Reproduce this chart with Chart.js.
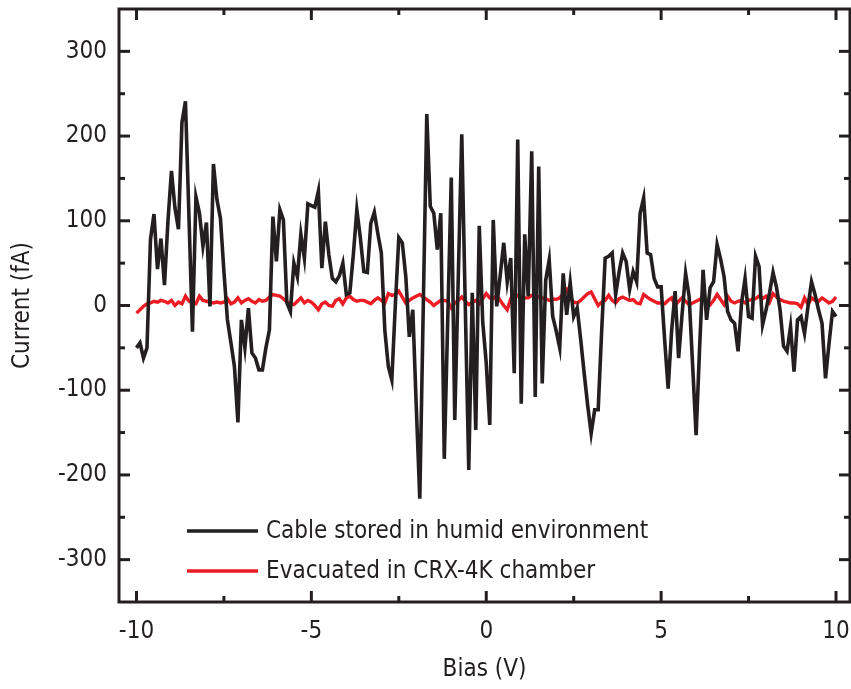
<!DOCTYPE html>
<html>
<head>
<meta charset="utf-8">
<title>Current vs Bias</title>
<script src="https://cdn.jsdelivr.net/npm/chart.js@4.4.0/dist/chart.umd.min.js"></script>
<style>
    html, body { margin: 0; padding: 0; background: #fff; }
    #wrap { width: 851px; height: 689px; }
</style>
</head>
<body>
<div id="wrap"><canvas id="ivChart" width="851" height="689"></canvas></div>
<script>
// Bias sweep: -10 V to +10 V in 0.1 V steps
const biasStart = -10;
const biasStep = 0.1;

// Cable stored in humid environment (fA), one value per bias step
const humidCurrent = [
    -50, -44, -62, -50, 78, 108, 43, 79, 24, 100,
    159, 115, 90, 216, 241, 105, -31, 128, 109, 70,
    98, -1, 167, 125, 103, 40, -17, -44, -72, -138,
    -17, -50, -3, -56, -62, -76, -76, -50, -29, 105,
    52, 113, 101, 3, -7, 50, 34, 84, 56, 120,
    118, 116, 135, 44, 99, 60, 32, 28, 35, 50,
    13, 15, 60, 113, 80, 40, 39, 97, 110, 85,
    62, -29, -72, -88, 0, 80, 74, 34, -37, -5,
    -120, -228, 0, 226, 117, 109, 66, 109, -181, -15,
    151, -135, 33, 202, 0, -194, 15, -147, 94, -20,
    -68, -141, 101, -1, 36, 74, 28, 56, -80, 196,
    -116, 84, 11, 182, -108, 164, -92, 30, 54, -13,
    -30, -50, 38, -11, 27, -13, -3, -40, -80, -118,
    -151, -123, -123, -30, 56, 58, 62, 13, 40, 62,
    52, 19, 40, 28, 109, 127, 62, 60, 32, 22,
    22, -40, -98, -30, 17, -62, -10, 38, 11, -70,
    -153, -50, 42, -17, 21, 28, 72, 55, 34, -7,
    -17, -21, -54, 3, 32, -13, -15, 58, 46, -23,
    -5, 15, 39, 21, -5, -48, -54, -25, -78, -17,
    -13, -33, -1, 28, 13, -5, -21, -86, -45, -7,
    -13
];

// Evacuated in CRX-4K chamber (fA)
const vacuumCurrent = [
    -9, -5, -1, 2, 3, 5, 4, 6, 5, 3,
    6, 0, 4, 2, 11, 5, 3, 2, 11, 6,
    5, 4, 3, 4, 3, 4, 8, 2, 4, 9,
    3, 6, 8, 5, 3, 7, 5, 6, 10, 13,
    12, 11, 8, 4, 2, 1, 5, 9, 3, 6,
    4, 0, -5, 2, 4, 0, -1, 6, 8, 2,
    9, 11, 7, 5, 6, 6, 4, 2, 6, 9,
    6, 3, 14, 12, 13, 17, 10, 3, 6, 9,
    11, 13, 10, 7, 4, 0, 3, 6, 6, 5,
    -3, 3, 6, 10, 5, 1, 4, 6, 2, 8,
    14, 9, 8, 12, 6, 0, -5, 8, 15, 11,
    9, 9, 9, 12, 13, 10, 9, 8, 6, 8,
    7, 9, 14, 19, 9, 4, 3, 6, 10, 14,
    16, 8, 0, 4, 6, 12, 6, 3, 8, 10,
    8, 6, 7, 3, 2, 13, 10, 7, 5, 3,
    3, 2, 6, 9, 0, 5, 9, 5, 1, 3,
    5, 7, 9, 5, 1, 6, 13, 7, 1, 11,
    5, 3, 5, 6, 3, 6, 7, 8, 11, 8,
    11, 4, 14, 10, 7, 5, 4, 3, 3, 2,
    -2, 9, 1, 9, 6, 5, 9, 6, 3, 5,
    10
];

const seriesLabels = ['Cable stored in humid environment', 'Evacuated in CRX-4K chamber'];
const xTicks = [-10, -5, 0, 5, 10];
const xMinorTicks = [-7.5, -2.5, 2.5, 7.5];
const yTicks = [-300, -200, -100, 0, 100, 200, 300];
const yMinorTicks = [-250, -150, -50, 50, 150, 250];

const FONT = "'DejaVu Sans Condensed', 'Liberation Sans', sans-serif";
const INK = '#231f20';
const RED = '#ed1c24';

function toPoints(values) {
    return values.map((v, i) => ({ x: biasStart + i * biasStep, y: v }));
}

// frame, inward ticks on all four sides, and the in-plot legend
const framePlugin = {
    id: 'frame',
    afterDraw(chart) {
        const { ctx, chartArea: a, scales: { x, y } } = chart;
        ctx.save();
        ctx.strokeStyle = INK;
        ctx.lineWidth = 3;
        ctx.lineCap = 'butt';

        const tick = (x1, y1, x2, y2) => { ctx.beginPath(); ctx.moveTo(x1, y1); ctx.lineTo(x2, y2); ctx.stroke(); };
        const major = 11, minor = 6;

        xTicks.forEach(v => { const p = x.getPixelForValue(v); tick(p, a.bottom, p, a.bottom - major); tick(p, a.top, p, a.top + major); });
        xMinorTicks.forEach(v => { const p = x.getPixelForValue(v); tick(p, a.bottom, p, a.bottom - minor); tick(p, a.top, p, a.top + minor); });
        yTicks.forEach(v => { const p = y.getPixelForValue(v); tick(a.left, p, a.left + major, p); tick(a.right, p, a.right - major, p); });
        yMinorTicks.forEach(v => { const p = y.getPixelForValue(v); tick(a.left, p, a.left + minor, p); tick(a.right, p, a.right - minor, p); });

        ctx.strokeRect(a.left, a.top, a.right - a.left, a.bottom - a.top);

        // legend
        const colors = [INK, RED];
        const rows = [531, 571];
        ctx.font = "24px " + FONT;
        ctx.textBaseline = 'middle';
        ctx.textAlign = 'left';
        rows.forEach((ry, i) => {
            ctx.strokeStyle = colors[i];
            ctx.lineWidth = 3.5;
            tick(187, ry, 258, ry);
            ctx.fillStyle = INK;
            ctx.fillText(seriesLabels[i], 266, ry + 1);
        });
        ctx.restore();
    }
};

const chart = new Chart(document.getElementById('ivChart'), {
    type: 'line',
    data: {
        datasets: [
            { label: seriesLabels[0], data: toPoints(humidCurrent), borderColor: INK, borderWidth: 3.6, pointRadius: 0, tension: 0, borderJoinStyle: 'miter' },
            { label: seriesLabels[1], data: toPoints(vacuumCurrent), borderColor: RED, borderWidth: 3.4, pointRadius: 0, tension: 0 }
        ]
    },
    options: {
        responsive: false,
        animation: false,
        layout: { padding: { top: 9, right: 1, left: 0, bottom: 0 } },
        plugins: { legend: { display: false }, tooltip: { enabled: false } },
        scales: {
            x: {
                type: 'linear',
                min: -10.5,
                max: 10.4,
                grid: { display: false, drawTicks: false },
                border: { display: false },
                afterBuildTicks: s => { s.ticks = xTicks.map(v => ({ value: v })); },
                afterFit: s => { s.height = 87; s.paddingLeft = 0; s.paddingRight = 0; },
                ticks: { color: INK, padding: 15, font: { family: FONT, size: 24 } },
                title: { display: true, text: 'Bias (V)', color: INK, padding: { top: 0, bottom: 5 }, font: { family: FONT, size: 24 } }
            },
            y: {
                min: -350,
                max: 350,
                grid: { display: false, drawTicks: false },
                border: { display: false },
                afterBuildTicks: s => { s.ticks = yTicks.map(v => ({ value: v })); },
                afterFit: s => { s.width = 119; s.paddingTop = 0; s.paddingBottom = 0; },
                ticks: { color: INK, padding: 12, font: { family: FONT, size: 24 } },
                title: { display: true, text: 'Current (fA)', color: INK, padding: { top: 8, bottom: 0 }, font: { family: FONT, size: 24 } }
            }
        }
    },
    plugins: [framePlugin]
});
</script>
</body>
</html>
